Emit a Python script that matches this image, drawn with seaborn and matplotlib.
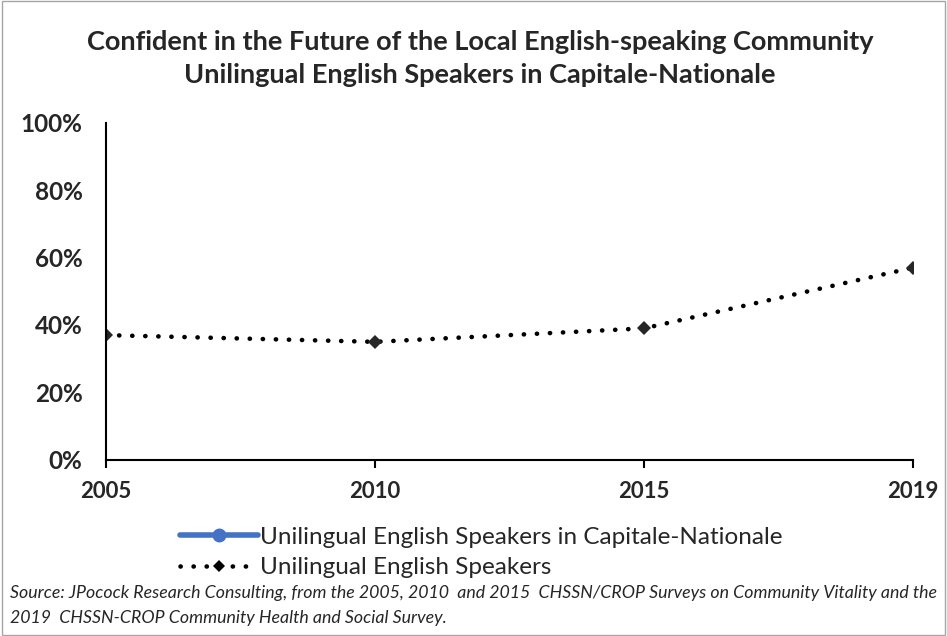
import pandas as pd
import seaborn as sns
import matplotlib.pyplot as plt
from matplotlib.lines import Line2D
from matplotlib.patches import Rectangle
from matplotlib.ticker import PercentFormatter

# Data
years = ["2005", "2010", "2015", "2019"]
unilingual = [37, 35, 39, 57]  # % confident, Unilingual English Speakers

df = pd.DataFrame({"Year": years, "Pct": unilingual})
df["pos"] = range(len(years))

sns.set_style("white")
plt.rcParams["font.family"] = ["Lato", "DejaVu Sans"]

dotted = (0, (0.05, 2.8))

fig = plt.figure(figsize=(9.47, 6.36), dpi=100)
ax = fig.add_axes([0.112, 0.277, 0.852, 0.53])

sns.lineplot(data=df, x="pos", y="Pct", ax=ax, color="black",
             linestyle=dotted, linewidth=3.3, dash_capstyle="round",
             marker="D", markersize=7, markeredgewidth=0,
             markerfacecolor="#262626", legend=False)

ax.set_xlim(0, len(years) - 1)
ax.set_ylim(0, 100)
ax.set_xticks(df["pos"])
ax.set_xticklabels(years)
ax.set_yticks(range(0, 101, 20))
ax.yaxis.set_major_formatter(PercentFormatter(decimals=0))
ax.set_xlabel("")
ax.set_ylabel("")

for side in ["top", "right"]:
    ax.spines[side].set_visible(False)
for side in ["left", "bottom"]:
    ax.spines[side].set_color("black")
    ax.spines[side].set_linewidth(1.5)
ax.tick_params(axis="x", which="major", direction="out", length=6, width=1.5,
               bottom=True, pad=9, labelsize=16, color="black")
ax.tick_params(axis="y", length=0, pad=17, labelsize=17.5)
for lbl in ax.get_xticklabels() + ax.get_yticklabels():
    lbl.set_fontweight("bold")

fig.text(0.507, 0.934, "Confident in the Future of the Local English-speaking Community",
         ha="center", va="center", fontsize=19.5, fontweight="bold")
fig.text(0.507, 0.882, "Unilingual English Speakers in Capitale-Nationale",
         ha="center", va="center", fontsize=19.5, fontweight="bold")

handles = [
    Line2D([], [], color="#4472C4", linewidth=4, marker="o", markersize=9),
    Line2D([], [], color="black", linestyle=dotted, linewidth=3.3,
           dash_capstyle="round", marker="D", markersize=6, markeredgewidth=0),
]
labels = ["Unilingual English Speakers in Capitale-Nationale",
          "Unilingual English Speakers"]
fig.legend(handles, labels, loc="upper left", bbox_to_anchor=(0.19, 0.172),
           frameon=False, fontsize=17.5, handlelength=3.2, handletextpad=0.1,
           labelspacing=0.4, borderaxespad=0, borderpad=0)

fig.text(0.011, 0.067,
         "Source: JPocock Research Consulting, from the 2005, 2010  and 2015  CHSSN/CROP Surveys on Community Vitality and the",
         fontsize=12.8, style="italic", va="center")
fig.text(0.011, 0.028,
         "2019  CHSSN-CROP Community Health and Social Survey.",
         fontsize=12.8, style="italic", va="center")

fig.patches.append(Rectangle((0.002, 0.002), 0.996, 0.996, transform=fig.transFigure,
                             fill=False, edgecolor="#a6a6a6", linewidth=1))

fig.savefig("out.png", dpi=100)
